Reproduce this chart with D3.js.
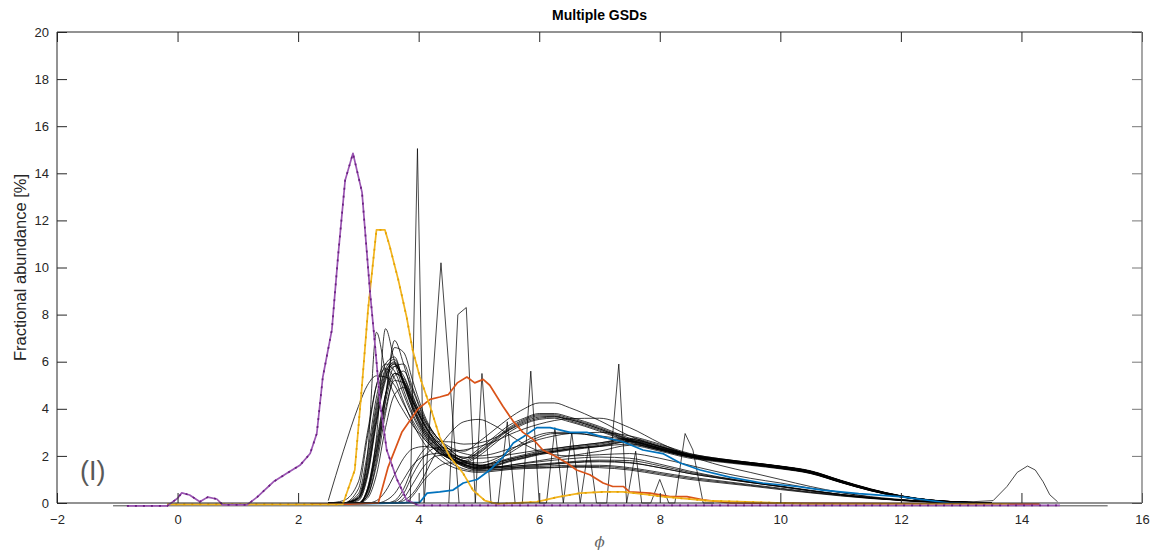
<!DOCTYPE html>
<html>
<head>
<meta charset="utf-8">
<script src="https://cdn.jsdelivr.net/npm/d3@7"></script>
<style>
  body { margin: 0; background: #fff; }
  svg { display: block; font-family: "Liberation Sans", Arial, sans-serif; }
</style>
</head>
<body>
<svg id="chart"></svg>
<script>
// shared phi grid for the smooth black GSD curves
const phiGrid = [2.5, 2.75, 3.0, 3.15, 3.3, 3.45, 3.6, 3.75, 3.9, 4.1, 4.3, 4.5, 4.75, 5.0, 5.25, 5.5, 5.75, 6.0, 6.25, 6.5, 7.0, 7.5, 8.0, 8.5, 9.0, 9.5, 10.0, 10.5, 11.0, 11.5, 12.0, 12.5, 13.0, 13.5];

// upper bundle
const gsdU1 = [0,0,0.3,1.8,4.2,5.7,6.1,5.2,4.3,3.3,2.6,2.2,1.8,2.2,2.7,3.2,3.55,3.75,3.75,3.6,3.2,2.7,2.35,2.05,1.85,1.7,1.55,1.35,0.95,0.58,0.3,0.12,0.04,0];
const gsdU2 = [0,0,0,0.6,2.4,4.6,5.8,5.9,4.9,3.6,2.8,2.3,1.9,2.15,2.65,3.15,3.5,3.7,3.7,3.55,3.15,2.65,2.3,2.0,1.82,1.68,1.52,1.32,0.92,0.56,0.28,0.11,0.03,0];
const gsdU3 = [0,0,0.4,2.1,4.5,5.9,6.2,5.1,4.1,3.1,2.5,2.1,1.75,2.1,2.6,3.1,3.45,3.65,3.68,3.5,3.1,2.62,2.28,1.98,1.8,1.66,1.5,1.3,0.9,0.55,0.27,0.1,0.03,0];
const gsdU4 = [0,0,0.1,1.1,3.4,5.2,5.8,5.4,4.5,3.5,2.8,2.3,1.9,2.3,2.8,3.3,3.6,3.8,3.8,3.65,3.25,2.75,2.4,2.08,1.88,1.72,1.57,1.37,0.97,0.6,0.31,0.13,0.04,0];
const gsdU5 = [0,0,0.25,1.6,4.0,5.6,5.95,5.0,4.0,3.0,2.45,2.05,1.7,2.0,2.5,3.0,3.35,3.55,3.6,3.45,3.05,2.6,2.25,1.95,1.78,1.63,1.48,1.28,0.88,0.53,0.26,0.1,0.03,0];
const gsdU6 = [0,0,0,0.5,2.2,4.6,6.6,6.4,5.2,3.7,2.8,2.4,2.2,2.6,3.1,3.6,4.0,4.25,4.25,4.05,3.5,2.85,2.4,2.05,1.85,1.7,1.55,1.35,0.95,0.58,0.3,0.12,0.04,0];
const gsdW = [0,0,0,0,0.1,0.5,1.2,1.9,2.3,2.4,2.3,2.2,2.25,2.4,2.6,2.9,3.15,3.35,3.5,3.58,3.6,3.2,2.55,2.0,1.6,1.3,1.0,0.7,0.45,0.25,0.1,0.04,0,0];
// middle bundle
const gsdM1 = [0,0,0.2,1.4,3.8,5.5,6.0,5.2,4.2,3.1,2.4,2.0,1.65,1.5,1.6,1.8,1.95,2.1,2.2,2.3,2.45,2.65,2.35,2.0,1.82,1.68,1.52,1.3,0.92,0.56,0.28,0.11,0.03,0];
const gsdM2 = [0,0,0,0.3,1.6,3.8,5.4,5.6,4.8,3.5,2.7,2.15,1.75,1.55,1.65,1.85,2.0,2.15,2.25,2.35,2.5,2.7,2.4,2.02,1.84,1.7,1.55,1.33,0.94,0.57,0.29,0.12,0.04,0];
const gsdM3 = [0,0,0.6,2.8,5.0,5.9,5.6,4.6,3.7,2.8,2.25,1.9,1.6,1.45,1.55,1.75,1.9,2.05,2.15,2.25,2.4,2.6,2.3,1.96,1.78,1.64,1.48,1.26,0.88,0.52,0.26,0.1,0.03,0];
const gsdM4 = [0,0,0,0.6,2.6,4.6,5.5,5.2,4.4,3.3,2.6,2.1,1.75,1.6,1.7,1.9,2.05,2.2,2.3,2.4,2.55,2.75,2.45,2.05,1.86,1.72,1.56,1.35,0.96,0.59,0.3,0.12,0.04,0];
const gsdM5 = [0,0,0.15,1.2,3.5,5.3,5.9,5.1,4.1,3.0,2.35,1.95,1.62,1.48,1.58,1.78,1.92,2.08,2.18,2.28,2.42,2.62,2.33,1.98,1.8,1.66,1.5,1.28,0.9,0.54,0.27,0.1,0.03,0];
// lower bundle
const gsdL1 = [0,0,0.2,1.3,3.6,5.4,5.9,5.1,4.0,2.9,2.2,1.75,1.45,1.35,1.4,1.45,1.5,1.5,1.52,1.55,1.55,1.45,1.25,1.05,0.9,0.75,0.6,0.45,0.32,0.2,0.12,0.05,0.02,0];
const gsdL2 = [0,0,0,0.5,2.2,4.3,5.5,5.3,4.4,3.3,2.5,1.95,1.55,1.38,1.42,1.48,1.53,1.55,1.58,1.6,1.6,1.5,1.3,1.1,0.94,0.78,0.63,0.47,0.33,0.21,0.12,0.05,0.02,0];
const gsdL3 = [0,0.1,0.9,3.0,5.0,5.7,5.3,4.3,3.4,2.5,1.95,1.6,1.38,1.3,1.35,1.42,1.46,1.48,1.5,1.52,1.5,1.4,1.2,1.0,0.86,0.72,0.57,0.43,0.3,0.19,0.11,0.04,0.01,0];
const gsdL4 = [0,0,0,0.4,2.0,4.0,5.2,5.1,4.3,3.2,2.4,1.9,1.55,1.42,1.47,1.55,1.6,1.63,1.67,1.72,1.78,1.72,1.5,1.25,1.05,0.87,0.7,0.52,0.36,0.22,0.13,0.05,0.02,0];
const gsdL5 = [0,0,0,0.2,1.2,3.2,4.6,4.9,4.3,3.3,2.5,2.0,1.65,1.5,1.52,1.6,1.68,1.75,1.82,1.88,1.95,1.9,1.65,1.35,1.1,0.9,0.72,0.54,0.37,0.23,0.13,0.05,0.02,0];
const gsdL6 = [0,0,0,0,0,0.1,0.4,1.0,1.6,2.0,2.1,2.0,1.8,1.6,1.5,1.5,1.55,1.6,1.65,1.7,1.75,1.7,1.5,1.25,1.05,0.87,0.7,0.52,0.36,0.22,0.13,0.05,0.02,0];
// late risers
const gsdR1 = [0,0,0,0,0,0,0.1,0.6,1.5,2.3,2.6,2.6,2.5,2.55,2.75,3.1,3.4,3.6,3.65,3.55,3.15,2.68,2.32,2.02,1.84,1.69,1.53,1.33,0.93,0.57,0.29,0.12,0.04,0];
const gsdR2 = [0,0,0,0,0,0,0,0.2,0.8,1.6,2.0,2.05,1.95,1.9,1.95,2.05,2.15,2.25,2.32,2.4,2.55,2.7,2.4,2.03,1.85,1.7,1.54,1.33,0.94,0.57,0.29,0.12,0.04,0];
const gsdR3 = [0,0,0,0,0,0,0,0,0.3,1.0,1.5,1.7,1.7,1.6,1.55,1.55,1.6,1.65,1.7,1.75,1.82,1.8,1.58,1.3,1.08,0.88,0.7,0.52,0.36,0.22,0.13,0.05,0.02,0];
const gsdR4 = [0,0,0,0,0,0,0.05,0.4,1.2,2.0,2.35,2.3,2.1,2.0,2.1,2.3,2.5,2.7,2.85,2.95,3.0,2.85,2.5,2.1,1.88,1.72,1.56,1.35,0.95,0.58,0.3,0.12,0.04,0];
const gsdH = [0,0,0,0,0,0,0,0.1,0.4,1.2,2.2,2.9,3.45,3.55,3.3,2.9,2.5,2.2,2.05,2.0,2.05,2.1,1.9,1.6,1.3,1.05,0.85,0.63,0.44,0.27,0.15,0.06,0.02,0];
const gsdE = [0.1,2.2,4.1,5.0,5.4,5.35,5.0,4.2,3.5,2.7,2.2,1.9,1.7,1.6,1.7,1.85,2.0,2.1,2.2,2.3,2.4,2.5,2.25,1.95,1.78,1.63,1.47,1.27,0.89,0.53,0.26,0.1,0.03,0];
// sharp early peaks
const gsdP1 = [0,0,0.2,2.0,7.25,5.6,4.6,3.9,3.3,2.7,2.2,1.9,1.6,1.45,1.5,1.6,1.7,1.8,1.9,2.0,2.2,2.45,2.2,1.9,1.74,1.6,1.45,1.25,0.87,0.52,0.26,0.1,0.03,0];
const gsdP2 = [0,0,0,0.5,2.8,7.4,6.0,4.8,3.8,2.9,2.3,1.95,1.65,1.55,1.75,2.1,2.5,2.8,2.95,2.95,2.85,2.65,2.3,2.0,1.82,1.67,1.5,1.3,0.91,0.55,0.27,0.11,0.03,0];
const gsdP3 = [0,0,0,0.3,1.8,4.4,6.9,5.9,4.6,3.4,2.6,2.15,1.8,1.7,1.85,2.2,2.6,2.9,3.0,3.0,2.8,2.55,2.25,1.95,1.78,1.64,1.48,1.28,0.89,0.54,0.27,0.1,0.03,0];

const blackCurves = [gsdE, gsdU1, gsdU2, gsdU3, gsdU4, gsdU5, gsdU6, gsdW, gsdM1, gsdM2, gsdM3, gsdM4, gsdM5,
  gsdL1, gsdL2, gsdL3, gsdL4, gsdL5, gsdL6, gsdR1, gsdR2, gsdR3, gsdR4, gsdH, gsdP1, gsdP2, gsdP3];

// spiky / sparse black series
const spikeAPhi = [3.86, 3.98, 4.09, 4.37, 4.67];
const spikeAVal = [0, 15.05, 0, 10.2, 0];
const spikeBPhi = [4.5, 4.65, 4.79, 4.94, 5.05, 5.2];
const spikeBVal = [0, 8.0, 8.3, 0, 5.5, 0];
const spikeCPhi = [5.2, 5.32, 5.47, 5.6, 5.72, 5.86, 6.0, 6.12, 6.26, 6.4, 6.54, 6.68, 6.82, 6.95, 7.12, 7.32, 7.45, 7.6, 7.7, 7.85, 8.0, 8.15, 8.25, 8.42, 8.55, 8.72, 8.9];
const spikeCVal = [0, 0, 3.45, 0, 0, 5.6, 0, 0, 3.2, 0, 3.0, 0, 2.4, 0, 0, 5.9, 0, 2.2, 0, 0, 1.0, 0, 0, 2.95, 2.25, 0, 0];
const bumpPhi = [13.0, 13.53, 13.76, 13.93, 14.1, 14.23, 14.36, 14.47, 14.6];
const bumpVal = [0.03, 0.1, 0.7, 1.3, 1.57, 1.4, 0.9, 0.35, 0.05];
const basePhi = [-1.07, 15.43];
const baseVal = [-0.12, -0.12];

// coloured GSDs
const bluePhi = [2.66, 4.02, 4.14, 4.35, 4.57, 4.74, 4.97, 5.18, 5.4, 5.57, 5.73, 5.96, 6.18, 6.51, 6.79, 7.06, 7.39, 7.72, 8.05, 8.34, 8.67, 9.16, 9.7, 10.28, 10.7, 11.3, 11.98, 12.8, 13.3];
const blueVal = [-0.06, 0.03, 0.42, 0.47, 0.55, 0.85, 1.0, 1.4, 1.95, 2.55, 2.8, 3.2, 3.2, 3.0, 3.0, 2.8, 2.6, 2.25, 2.1, 1.7, 1.4, 1.1, 0.85, 0.7, 0.55, 0.4, 0.27, 0, -0.05];
const redPhi = [2.2, 2.86, 3.33, 3.49, 3.72, 3.99, 4.19, 4.35, 4.49, 4.64, 4.8, 4.93, 5.07, 5.18, 5.4, 5.56, 5.73, 5.9, 6.06, 6.26, 6.46, 6.62, 6.84, 7.06, 7.22, 7.4, 7.5, 7.84, 8.17, 8.45, 8.72, 9.17, 14.3];
const redVal = [-0.05, -0.05, 0, 1.5, 3.0, 4.0, 4.4, 4.5, 4.6, 5.1, 5.35, 5.1, 5.25, 5.0, 4.1, 3.5, 3.0, 2.7, 2.25, 2.0, 1.7, 1.4, 1.2, 0.85, 0.7, 0.7, 0.47, 0.42, 0.27, 0.27, 0.13, 0, -0.05];
const yellowPhi = [-0.17, 2.74, 2.94, 3.06, 3.16, 3.3, 3.44, 3.52, 3.66, 3.8, 3.9, 4.02, 4.19, 4.35, 4.52, 4.74, 4.9, 5.1, 5.3, 5.96, 6.3, 6.68, 7.06, 7.39, 7.84, 8.05, 8.78, 9.7, 10.5, 13.8];
const yellowVal = [-0.06, -0.06, 1.4, 5.0, 8.2, 11.6, 11.6, 10.9, 9.5, 7.9, 6.5, 5.35, 4.1, 2.8, 1.95, 1.25, 0.55, 0.1, -0.04, 0.05, 0.25, 0.42, 0.47, 0.47, 0.34, 0.27, 0.1, 0.03, -0.05, -0.05];
const purplePhi = [-0.84, -0.17, 0, 0.07, 0.2, 0.37, 0.5, 0.65, 0.75, 1.15, 1.32, 1.59, 1.82, 2.03, 2.2, 2.31, 2.41, 2.56, 2.66, 2.78, 2.91, 3.06, 3.11, 3.19, 3.28, 3.36, 3.47, 3.64, 3.8, 4.0, 14.64];
const purpleVal = [-0.12, -0.12, 0.2, 0.43, 0.34, 0.05, 0.25, 0.17, -0.08, -0.08, 0.25, 0.9, 1.27, 1.6, 2.1, 2.95, 5.35, 7.35, 10.4, 13.7, 14.85, 13.2, 11.6, 9.05, 6.6, 4.25, 2.25, 1.0, 0.13, -0.1, -0.1];

const xTicks = [-2, 0, 2, 4, 6, 8, 10, 12, 14, 16];
const yTicks = [0, 2, 4, 6, 8, 10, 12, 14, 16, 18, 20];

const W = 1162, H = 553,
  plot = { l: 57, r: 1142, t: 32, b: 503 },
  axisColor = '#262626';

const svg = d3.select('#chart').attr('width', W).attr('height', H);

const xScale = d3.scaleLinear().domain([-2, 16]).range([plot.l, plot.r]),
  yScale = d3.scaleLinear().domain([0, 20]).range([plot.b, plot.t]);

const zip = (xs, ys) => xs.map((p, i) => [p, ys[i]]);
const lineLinear = d3.line().x((d) => xScale(d[0])).y((d) => yScale(d[1]));
const lineSmooth = d3.line().x((d) => xScale(d[0])).y((d) => yScale(d[1])).curve(d3.curveMonotoneX);

// black curves
const gBlack = svg.append('g');
blackCurves.forEach((vals) => {
  gBlack.append('path')
    .attr('d', lineSmooth(zip(phiGrid, vals)))
    .attr('fill', 'none')
    .attr('stroke', '#000')
    .attr('stroke-opacity', 0.85)
    .attr('stroke-width', 0.9);
});
[[spikeAPhi, spikeAVal], [spikeBPhi, spikeBVal], [spikeCPhi, spikeCVal], [bumpPhi, bumpVal], [basePhi, baseVal]].forEach((s) => {
  gBlack.append('path')
    .attr('d', lineLinear(zip(s[0], s[1])))
    .attr('fill', 'none')
    .attr('stroke', '#000')
    .attr('stroke-opacity', 0.8)
    .attr('stroke-width', 0.9);
});

// coloured curves
const coloured = [
  { phi: bluePhi, val: blueVal, color: '#0072BD', dark: null },
  { phi: redPhi, val: redVal, color: '#D95319', dark: null },
  { phi: yellowPhi, val: yellowVal, color: '#F2B420', dark: '#e2a200' },
  { phi: purplePhi, val: purpleVal, color: '#9a55b2', dark: '#6a1f80' }
];
coloured.forEach((c) => {
  svg.append('path')
    .attr('d', lineLinear(zip(c.phi, c.val)))
    .attr('fill', 'none')
    .attr('stroke', c.color)
    .attr('stroke-width', 1.7)
    .attr('stroke-linejoin', 'round');
  if (c.dark) {
    svg.append('path')
      .attr('d', lineLinear(zip(c.phi, c.val)))
      .attr('fill', 'none')
      .attr('stroke', c.dark)
      .attr('stroke-width', 1.7)
      .attr('stroke-dasharray', '2,6');
  }
});

// axes (ticks point inward, MATLAB style)
const xAxis = svg.append('g')
  .attr('transform', 'translate(0,' + plot.b + ')')
  .call(d3.axisBottom(xScale).tickValues(xTicks).tickSizeInner(-10).tickSizeOuter(0).tickPadding(12));
const xAxisTop = svg.append('g')
  .attr('transform', 'translate(0,' + plot.t + ')')
  .call(d3.axisTop(xScale).tickValues(xTicks).tickSizeInner(-10).tickSizeOuter(0).tickFormat(''));
const yAxis = svg.append('g')
  .attr('transform', 'translate(' + plot.l + ',0)')
  .call(d3.axisLeft(yScale).tickValues(yTicks).tickSizeInner(-10).tickSizeOuter(0).tickPadding(8));
const yAxisRight = svg.append('g')
  .attr('transform', 'translate(' + plot.r + ',0)')
  .call(d3.axisRight(yScale).tickValues(yTicks).tickSizeInner(-10).tickSizeOuter(0).tickFormat(''));

[xAxis, xAxisTop, yAxis, yAxisRight].forEach((g) => {
  g.select('.domain').remove();
  g.selectAll('.tick line').attr('stroke', axisColor);
  g.selectAll('.tick text')
    .attr('fill', axisColor)
    .attr('font-size', 13)
    .attr('font-family', '"Liberation Sans", Arial, sans-serif');
});
yAxisRight.selectAll('.tick line').attr('stroke', '#777');

// box: left, bottom, top dark; right a lighter grey
svg.append('path')
  .attr('d', 'M' + plot.r + ',' + plot.t + 'H' + plot.l + 'V' + plot.b + 'H' + plot.r)
  .attr('fill', 'none')
  .attr('stroke', axisColor)
  .attr('stroke-width', 1);
svg.append('line')
  .attr('x1', plot.r).attr('x2', plot.r)
  .attr('y1', plot.t).attr('y2', plot.b)
  .attr('stroke', '#777')
  .attr('stroke-width', 1.3);

// labels
svg.append('text')
  .text('Multiple GSDs')
  .attr('x', (plot.l + plot.r) / 2)
  .attr('y', 20)
  .attr('text-anchor', 'middle')
  .attr('font-weight', 'bold')
  .attr('font-size', 14)
  .attr('fill', '#000');

svg.append('text')
  .text('Fractional abundance [%]')
  .attr('text-anchor', 'middle')
  .attr('font-size', 16.5)
  .attr('fill', axisColor)
  .attr('transform', 'translate(26,' + (plot.t + plot.b) / 2 + ') rotate(-90)');

svg.append('text')
  .text('\u03d5')
  .attr('x', (plot.l + plot.r) / 2)
  .attr('y', 547)
  .attr('text-anchor', 'middle')
  .attr('font-style', 'italic')
  .attr('font-size', 15)
  .attr('font-family', '"DejaVu Serif", serif')
  .attr('fill', '#666');

svg.append('text')
  .text('(I)')
  .attr('x', 80)
  .attr('y', 480)
  .attr('font-size', 27)
  .attr('fill', '#595959');
</script>
</body>
</html>
